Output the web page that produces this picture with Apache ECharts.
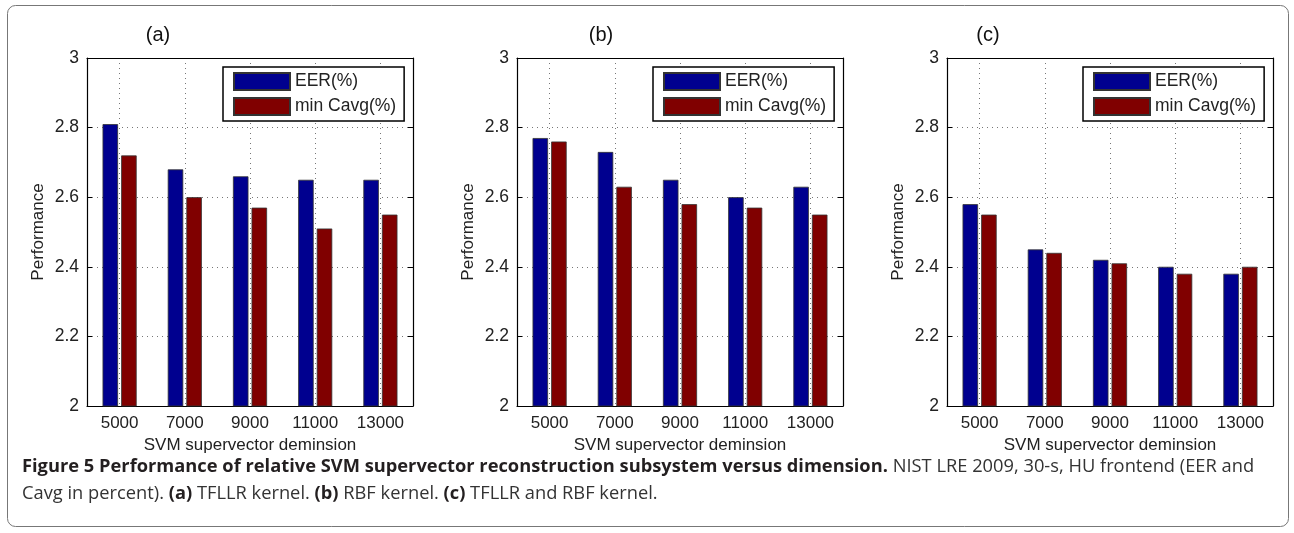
<!DOCTYPE html>
<html>
<head>
<meta charset="utf-8">
<script src="https://cdn.jsdelivr.net/npm/echarts@6/dist/echarts.min.js"></script>
<style>
  html, body { margin: 0; padding: 0; background: #fff; }
  #chart { width: 1294px; height: 533px; }
</style>
</head>
<body>
<div id="chart"></div>
<script>
// data
const categories = ['5000', '7000', '9000', '11000', '13000']
const seriesNames = ['EER(%)', 'min Cavg(%)']
const panelTitles = ['(a)', '(b)', '(c)']

const eerA = [2.81, 2.68, 2.66, 2.65, 2.65]
const cavgA = [2.72, 2.60, 2.57, 2.51, 2.55]
const eerB = [2.77, 2.73, 2.65, 2.60, 2.63]
const cavgB = [2.76, 2.63, 2.58, 2.57, 2.55]
const eerC = [2.58, 2.45, 2.42, 2.40, 2.38]
const cavgC = [2.55, 2.44, 2.41, 2.38, 2.40]

const yMin = 2
const yMax = 3
const yStep = 0.2

const panels = [
  { eer: eerA, cavg: cavgA },
  { eer: eerB, cavg: cavgB },
  { eer: eerC, cavg: cavgC }
]

const font = 'Liberation Sans, Arial, sans-serif'
const gridLefts = [87, 517, 947]
const titleX = [158, 601, 988]
const colors = ['#00008f', '#800000']

const chart = echarts.init(document.getElementById('chart'))

const grid = []
const xAxis = []
const yAxis = []
const series = []
const legend = []
const graphic = []

panels.forEach((p, i) => {
  grid.push({ left: gridLefts[i], top: 58, width: 326, height: 348 })

  // bottom axis + top mirror
  xAxis.push({
    type: 'category',
    gridIndex: i,
    data: categories,
    boundaryGap: true,
    axisLine: { lineStyle: { color: '#000', width: 1.2 } },
    axisTick: { inside: true, alignWithLabel: true, length: 5, lineStyle: { color: '#000' } },
    axisLabel: { fontSize: 17, color: '#222', margin: 9, fontFamily: font },
    splitLine: { show: true, alignWithLabel: true, lineStyle: { type: [1, 4], color: '#777' } },
    name: 'SVM supervector deminsion',
    nameLocation: 'middle',
    nameGap: 29,
    nameTextStyle: { fontSize: 17, color: '#222', fontFamily: font }
  })
  xAxis.push({
    type: 'category',
    gridIndex: i,
    position: 'top',
    data: categories,
    axisLine: { lineStyle: { color: '#000', width: 1.2 } },
    axisTick: { inside: true, alignWithLabel: true, length: 5, lineStyle: { color: '#000' } },
    axisLabel: { show: false },
    splitLine: { show: false }
  })

  yAxis.push({
    type: 'value',
    gridIndex: i,
    min: yMin,
    max: yMax,
    interval: yStep,
    axisLine: { show: true, lineStyle: { color: '#000', width: 1.2 } },
    axisTick: { show: true, inside: true, length: 5, lineStyle: { color: '#000' } },
    axisLabel: { fontSize: 17.5, color: '#222', margin: 8, fontFamily: font },
    splitLine: { show: true, lineStyle: { type: [1, 4], color: '#777' } },
    name: 'Performance',
    nameLocation: 'middle',
    nameGap: 40,
    nameRotate: 90,
    nameTextStyle: { fontSize: 17, color: '#222', fontFamily: font }
  })
  yAxis.push({
    type: 'value',
    gridIndex: i,
    position: 'right',
    min: yMin,
    max: yMax,
    interval: yStep,
    axisLine: { show: true, lineStyle: { color: '#000', width: 1.2 } },
    axisTick: { show: true, inside: true, length: 5, lineStyle: { color: '#000' } },
    axisLabel: { show: false },
    splitLine: { show: false }
  })

  ;[p.eer, p.cavg].forEach((vals, k) => {
    series.push({
      type: 'bar',
      name: seriesNames[k],
      xAxisIndex: i * 2,
      yAxisIndex: i * 2,
      data: vals,
      barWidth: 15.5,
      barGap: '20%',
      itemStyle: { color: colors[k], borderColor: '#333', borderWidth: 0.8 }
    })
  })

  legend.push({
    left: gridLefts[i] + 136,
    top: 67,
    orient: 'vertical',
    data: seriesNames,
    icon: 'rect',
    itemWidth: 56,
    itemHeight: 17,
    itemGap: 6,
    padding: [5, 8, 5, 10],
    borderColor: '#000',
    borderWidth: 1.5,
    backgroundColor: '#fff',
    textStyle: { fontSize: 17.5, color: '#222', fontFamily: font },
    selectedMode: false
  })

  graphic.push({
    type: 'text',
    x: titleX[i],
    y: 35,
    style: { text: panelTitles[i], fontSize: 20, fill: '#111', font: '20px ' + font, textAlign: 'center', textVerticalAlign: 'middle' }
  })
})

// outer frame
graphic.push({
  type: 'rect',
  z: -10,
  shape: { x: 7.5, y: 5.5, width: 1281, height: 521, r: 8 },
  style: { fill: 'none', stroke: '#777', lineWidth: 1 }
})

// caption
const capFont = 'Open Sans, Noto Sans, sans-serif'
const capRich = {
  b: { fontSize: 17.5, fontWeight: 'bold', fontFamily: capFont, fill: '#231f20' },
  n: { fontSize: 17.5, fontFamily: capFont, fill: '#333' }
}
graphic.push({
  type: 'text',
  x: 22,
  y: 467,
  scaleX: 1.045,
  style: {
    text: '{b|Figure 5 Performance of relative SVM supervector reconstruction subsystem versus dimension.}{n| NIST LRE 2009, 30-s, HU frontend (EER and}',
    textVerticalAlign: 'middle',
    rich: capRich
  }
})
graphic.push({
  type: 'text',
  x: 22,
  y: 494,
  scaleX: 1.045,
  style: {
    text: '{n|Cavg in percent). }{b|(a)}{n| TFLLR kernel. }{b|(b)}{n| RBF kernel. }{b|(c)}{n| TFLLR and RBF kernel.}',
    textVerticalAlign: 'middle',
    rich: capRich
  }
})

chart.setOption({
  animation: false,
  backgroundColor: '#fff',
  grid,
  xAxis,
  yAxis,
  legend,
  series,
  graphic
})
</script>
</body>
</html>
